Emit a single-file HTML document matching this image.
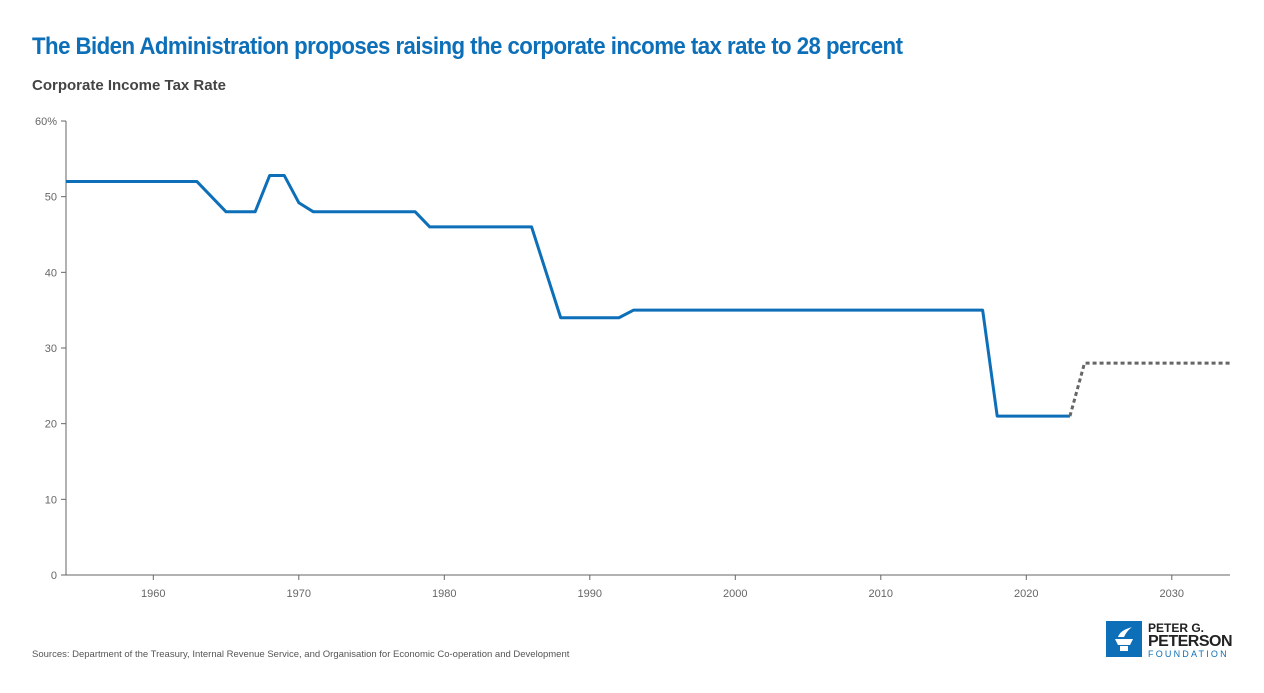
<!DOCTYPE html>
<html><head><meta charset="utf-8"><style>
body{margin:0;width:1264px;height:693px;background:#fff;font-family:"Liberation Sans",sans-serif;overflow:hidden;position:relative}
.t{position:absolute;left:32px;top:33px;font-size:24px;font-weight:bold;color:#0d6fb8;letter-spacing:-0.6px;transform:scaleX(0.927);transform-origin:left}
.s{position:absolute;left:32px;top:77px;font-size:15px;font-weight:bold;color:#444}
.src{position:absolute;left:32px;top:649px;font-size:9.5px;color:#555}
</style></head><body>
<div class="t">The Biden Administration proposes raising the corporate income tax rate to 28 percent</div>
<div class="s">Corporate Income Tax Rate</div>
<svg id="c" width="1264" height="693" style="position:absolute;left:0;top:0"></svg>
<div class="src">Sources: Department of the Treasury, Internal Revenue Service, and Organisation for Economic Co-operation and Development</div>
<div style="position:absolute;left:1106px;top:621px;">
<svg width="36" height="36"><rect width="36" height="36" fill="#0d6fb8"/><path d="M9 18h18l-3 6h-12z M14 25h8v5h-8z" fill="#fff"/><path d="M12 16c2-6 8-8 14-10c-4 3-6 6-8 10z" fill="#fff"/></svg>
<div style="position:absolute;left:42px;top:0px;font-size:12px;font-weight:bold;color:#222;white-space:nowrap">PETER G.</div>
<div style="position:absolute;left:42px;top:12px;font-size:16px;font-weight:bold;color:#222;white-space:nowrap;letter-spacing:-0.5px">PETERSON</div>
<div style="position:absolute;left:42px;top:28px;font-size:9px;letter-spacing:2.2px;color:#0d6fb8;white-space:nowrap">FOUNDATION</div>
</div>
<script>
const years=[1954,1963,1965,1967,1968,1969,1970,1971,1978,1979,1986,1988,1992,1993,2017,2018,2023];
const rates=[52,52,48,48,52.8,52.8,49.2,48,48,46,46,34,34,35,35,21,21];
const projYears=[2023,2024,2034];
const projRates=[21,28,28];
const yTicks=[0,10,20,30,40,50,60];
const xTicks=[1960,1970,1980,1990,2000,2010,2020,2030];
const X0=66,X1=1230,Y0=575,Y1=121;
const x=v=>X0+(v-1954)/80*(X1-X0);
const y=v=>Y0-v/60*(Y0-Y1);
const svg=document.getElementById('c');const NS='http://www.w3.org/2000/svg';
function mk(t,a){const e=document.createElementNS(NS,t);for(const k in a)e.setAttribute(k,a[k]);svg.appendChild(e);return e;}
let ax=mk('line',{x1:X0,x2:X0,y1:Y1,y2:Y0,stroke:'#666'});


let bx=mk('line',{x1:X0,x2:X1,y1:Y0,y2:Y0,stroke:'#666'});


yTicks.forEach(v=>{mk('line',{x1:X0-5,x2:X0,y1:y(v),y2:y(v),stroke:'#666'});
const t=mk('text',{x:X0-9,y:y(v)+4,'text-anchor':'end','font-size':11,fill:'#666'});t.textContent=v+(v===60?'%':'');

});
xTicks.forEach(v=>{mk('line',{x1:x(v),x2:x(v),y1:Y0,y2:Y0+5,stroke:'#666'});
const t=mk('text',{x:x(v),y:Y0+22,'text-anchor':'middle','font-size':11,fill:'#666'});t.textContent=v;

});
const l=mk('polyline',{points:years.map((v,i)=>x(v)+','+y(rates[i])).join(' '),fill:'none',stroke:'#0d6fb8','stroke-width':3,'stroke-linejoin':'round'});


const p=mk('polyline',{points:projYears.map((v,i)=>x(v)+','+y(projRates[i])).join(' '),fill:'none',stroke:'#666','stroke-width':3,'stroke-dasharray':'4 3'});


</script>
</body></html>
